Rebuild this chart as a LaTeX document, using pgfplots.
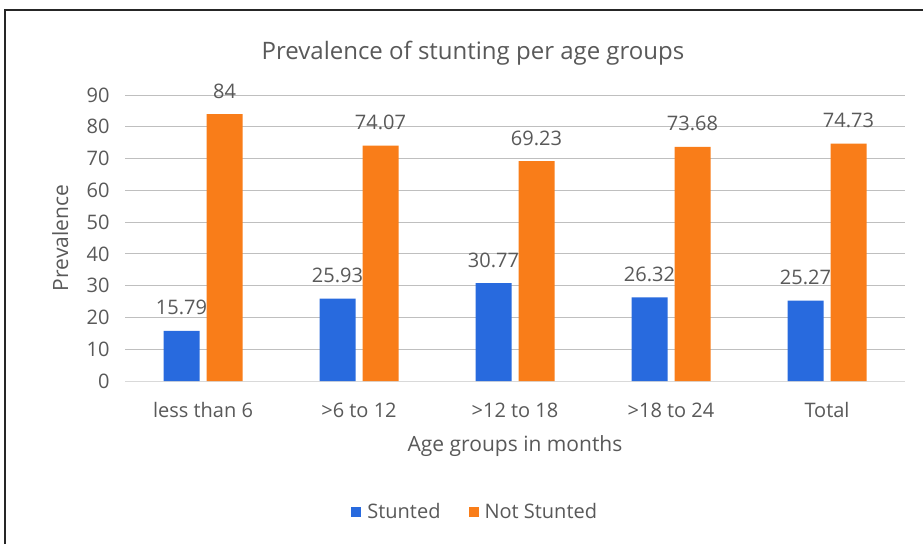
\documentclass[border=0pt]{standalone}
\usepackage{pgfplots}
\pgfplotsset{compat=1.18}
\usepackage{fontspec}
\setmainfont{Open Sans}
\definecolor{txt}{RGB}{89,89,89}
\definecolor{cblue}{RGB}{40,106,222}
\definecolor{corange}{RGB}{249,125,25}
\definecolor{grid}{RGB}{217,217,217}
\begin{document}
\begin{tikzpicture}[x=1pt,y=1pt]
\useasboundingbox (0,0) rectangle (923,544);
\fill[white] (0,0) rectangle (923,544);
\draw[line width=1.6pt,black!85] (5,0) -- (5,534) -- (923,534);
\node[text=txt,font=\fontsize{24}{28}\selectfont] at (473,491) {Prevalence of stunting per age groups};
\begin{axis}[
  at={(125pt,163pt)}, anchor=south west,
  scale only axis, width=780pt, height=286pt,
  ybar=7pt, bar width=36pt,
  xmin=-0.5, xmax=4.5, ymin=0, ymax=90,
  ytick={0,10,...,90},
  xtick=data,
  xticklabels={less than 6,>6 to 12,>12 to 18,>18 to 24,Total},
  axis line style={draw=none},
  axis x line*=bottom,
  x axis line style={draw=grid, line width=0.8pt},
  major tick length=0pt,
  xtick style={draw=none}, ytick style={draw=none},
  xmajorgrids=false,
  ymajorgrids, grid style={grid, line width=0.8pt},
  tick label style={text=txt, font=\fontsize{20}{24}\selectfont},
  /pgf/number format/assume math mode=true,
  yticklabel style={xshift=-12pt},
  xticklabel style={yshift=-18pt},
  ylabel={Prevalence}, ylabel style={text=txt, font=\fontsize{21}{24}\selectfont, at={(axis description cs:-0.083,0.5)}, anchor=center},
  xlabel={Age groups in months}, xlabel style={text=txt, font=\fontsize{21}{24}\selectfont, at={(axis description cs:0.5,-0.227)}, anchor=center},
  nodes near coords,
  nodes near coords style={text=txt, font=\fontsize{20}{24}\selectfont, anchor=center, yshift=23pt, /pgf/number format/fixed, /pgf/number format/precision=2},
  legend style={at={(axis description cs:0.449,-0.458)}, anchor=center, draw=none, legend columns=2, font=\fontsize{20}{24}\selectfont, text=txt, /tikz/every even column/.append style={column sep=26pt}},
  legend image code/.code={\fill[#1] (0pt,-5pt) rectangle (10pt,5pt);},
]
\addplot[fill=cblue, draw=none] coordinates {(0,15.79) (1,25.93) (2,30.77) (3,26.32) (4,25.27)};
\addplot[fill=corange, draw=none] coordinates {(0,84) (1,74.07) (2,69.23) (3,73.68) (4,74.73)};
\legend{\hspace{4pt}Stunted, \hspace{4pt}Not Stunted}
\end{axis}
\end{tikzpicture}
\end{document}
